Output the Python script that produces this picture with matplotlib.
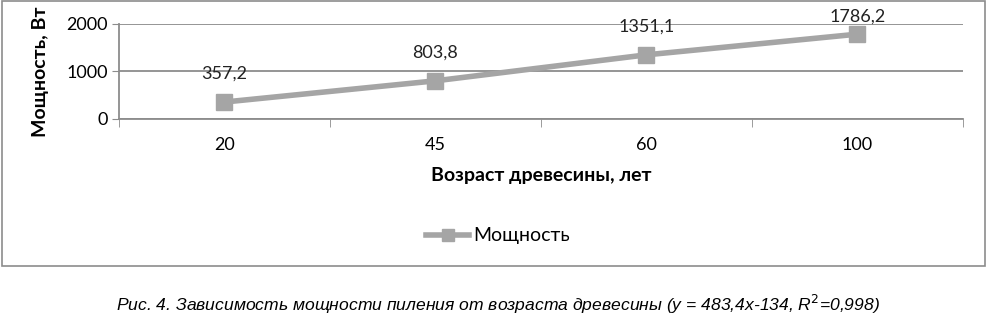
import matplotlib.pyplot as plt
from matplotlib.patches import Rectangle

# Data
ages = ['20', '45', '60', '100']
power = [357.2, 803.8, 1351.1, 1786.2]
power_labels = ['357,2', '803,8', '1351,1', '1786,2']
y_ticks = [0, 1000, 2000]

plt.rcParams['font.family'] = ['Lato', 'DejaVu Sans']

W, H = 987, 319
fig = plt.figure(figsize=(W / 100, H / 100), dpi=100)

# outer chart frame
fig.patches.append(Rectangle((2 / W, (H - 266) / H), 983 / W, 265 / H,
                             transform=fig.transFigure, fill=False,
                             edgecolor='#8c8c8c', linewidth=1.2))

ax = fig.add_axes([119 / W, (H - 119) / H, (963 - 119) / W, 95 / H])
x = list(range(len(ages)))
ax.plot(x, power, color='#a5a5a5', linewidth=4, marker='s', markersize=11,
        label='Мощность', zorder=3)

ax.set_xlim(-0.5, len(ages) - 0.5)
ax.set_ylim(0, 2000)

# data labels above points, kept inside the frame
for xi, v, lab in zip(x, power, power_labels):
    px, py = ax.transData.transform((xi, v))
    top = H - 17  # pixel limit for label centre
    cy = min(py + 28, top)
    ax.annotate(lab, (xi, v), xytext=(0, (cy - py) * 72 / 100), textcoords='offset points',
                ha='center', va='center', fontsize=13, color='#222222')

ax.set_yticks(y_ticks)
ax.set_yticklabels([str(t) for t in y_ticks], fontsize=13)
ax.set_xticks(x)
ax.set_xticklabels(ages, fontsize=13)
ax.tick_params(axis='x', length=0, pad=13)
ax.tick_params(axis='y', length=5, color='#8c8c8c', pad=3)
# category separators
ax.set_xticks([i - 0.5 for i in range(len(ages) + 1)], minor=True)
ax.tick_params(axis='x', which='minor', length=6, color='#8c8c8c')

ax.grid(axis='y', color='#8c8c8c', linewidth=1.3)
ax.set_axisbelow(True)
for s in ['top', 'right']:
    ax.spines[s].set_visible(False)
ax.spines['left'].set_color('#8c8c8c')
ax.spines['bottom'].set_color('#8c8c8c')
ax.spines['left'].set_linewidth(1.3)
ax.spines['bottom'].set_linewidth(1.3)

ax.set_xlabel('Возраст древесины, лет', fontsize=14, fontweight='bold', labelpad=10)
ax.set_ylabel('Мощность, Вт', fontsize=14, fontweight='bold')
ax.yaxis.set_label_coords(-0.083, 0.5)

fig.legend(loc='center', bbox_to_anchor=(498 / W, (H - 236) / H), frameon=False,
           fontsize=14, handlelength=2.2, markerscale=0.85, handletextpad=0.2)

fig.text(498 / W, (H - 304) / H,
         'Рис. 4. Зависимость мощности пиления от возраста древесины (y = 483,4x-134, R$^2$=0,998)',
         ha='center', va='center', fontsize=12.6, style='italic',
         family=['Liberation Sans', 'DejaVu Sans'])

fig.savefig('out.png', dpi=100)
